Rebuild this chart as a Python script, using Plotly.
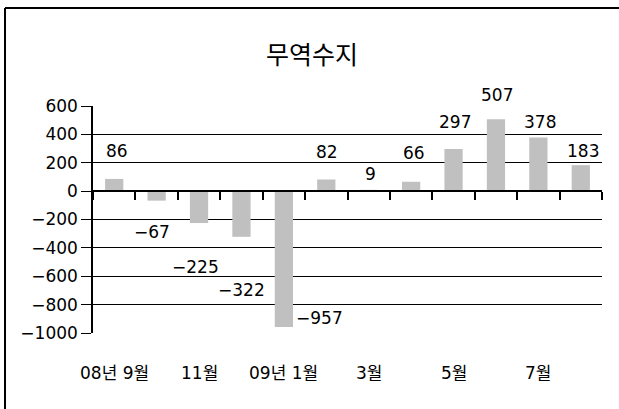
import plotly.graph_objects as go

# Monthly trade balance, Sep 2008 - Aug 2009
months = ["08년 9월", "10월", "11월", "12월", "09년 1월", "2월",
          "3월", "4월", "5월", "6월", "7월", "8월"]
balance = [86, -67, -225, -322, -957, 82, 9, 66, 297, 507, 378, 183]

# Only every other month carries a label on the category axis
label_months = ["08년 9월", "11월", "09년 1월", "3월", "5월", "7월"]
label_texts = ["08년 9월", "11월", "09년 1월", "3월", "5월", "7월"]

# Pixel nudges for the value labels (x, y)
label_dx = [3, -5, -4, 0, 36, 1, 2, 3, 1, 1, 2, 2]
label_dy = [28, -31, -44, -53, 9, 27, 16, 29, 27, 24, 16, 14]

FONT = "DejaVu Sans, Noto Sans CJK KR, sans-serif"

W, H = 619, 409
ML, MR, MT, MB = 93, 17, 106, 76
PW, PH = W - ML - MR, H - MT - MB


def px_to_paper_x(px):
    return (px - ML) / PW


def px_to_paper_y(py):
    return (H - MB - py) / PH


fig = go.Figure()
fig.add_trace(go.Bar(
    x=months, y=balance,
    marker=dict(color="#c0c0c0", line=dict(width=0)),
    width=0.43,
    hoverinfo="x+y",
))

annotations = []
for m, v, dx, dy in zip(months, balance, label_dx, label_dy):
    annotations.append(dict(
        x=m, y=v, xref="x", yref="y",
        text=f"{v}".replace("-", "\u2212"),
        showarrow=False, xshift=dx, yshift=dy,
        font=dict(family=FONT, size=17, color="black"),
    ))

for m, t in zip(label_months, label_texts):
    annotations.append(dict(
        x=m, y=px_to_paper_y(373), xref="x", yref="paper",
        text=t, showarrow=False, yanchor="middle",
        font=dict(family=FONT, size=17, color="black"),
    ))

# Chart frame: top and left edges
shapes = [
    dict(type="line", xref="paper", yref="paper",
         x0=px_to_paper_x(5), x1=px_to_paper_x(640),
         y0=px_to_paper_y(8), y1=px_to_paper_y(8),
         line=dict(color="black", width=2)),
    dict(type="line", xref="paper", yref="paper",
         x0=px_to_paper_x(5), x1=px_to_paper_x(5),
         y0=px_to_paper_y(8), y1=px_to_paper_y(430),
         line=dict(color="black", width=2)),
]

fig.update_layout(
    width=W, height=H,
    margin=dict(l=ML, r=MR, t=MT, b=MB, pad=0),
    paper_bgcolor="white", plot_bgcolor="white",
    showlegend=False,
    title=dict(text="무역수지", x=312 / W, y=1 - 55 / H,
               xanchor="center", yanchor="middle",
               font=dict(family=FONT, size=25, color="black")),
    annotations=annotations,
    shapes=shapes,
    xaxis=dict(
        type="category", categoryorder="array", categoryarray=months,
        range=[-0.5, len(months) - 0.5], autorange=False,
        anchor="free", position=1000 / 1600,
        showline=True, linecolor="black", linewidth=1.5,
        ticks="outside", tickson="boundaries", ticklen=8,
        tickcolor="black", tickwidth=1.5,
        showticklabels=False, showgrid=False, zeroline=False,
    ),
    yaxis=dict(
        range=[-1000, 600], dtick=200, tick0=0,
        showgrid=True, gridcolor="black", gridwidth=1.3,
        showline=True, linecolor="black", linewidth=1.5,
        ticks="outside", ticklen=10, tickcolor="black", tickwidth=1.3,
        zeroline=False,
        tickfont=dict(family=FONT, size=17, color="black"),
    ),
    bargap=0.57,
)

fig.write_html("out.html")
